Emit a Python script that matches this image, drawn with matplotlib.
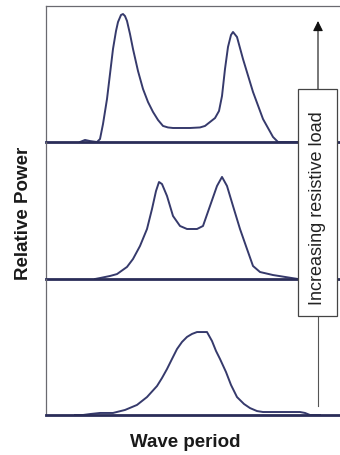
import matplotlib
matplotlib.use('Agg')
import matplotlib.pyplot as plt
from matplotlib.patches import Rectangle, FancyArrowPatch

plt.rcParams['font.family'] = ['Liberation Sans', 'DejaVu Sans']

# 功率谱（高负载 -> 低负载，从上到下）
period_high = [1.70, 1.95, 2.20, 2.55, 2.70, 2.85, 3.05, 3.20, 3.35, 3.50, 3.60, 3.75, 3.85, 3.95, 4.05,
               4.20, 4.35, 4.60, 4.85, 5.10, 5.35, 5.60, 5.85, 6.10, 6.35, 7.20, 7.70, 7.95, 8.20, 8.45,
               8.65, 8.80, 8.95, 9.10, 9.25, 9.35, 9.55, 9.85, 10.35, 10.85, 11.35, 11.60, 11.95, 12.70]
power_high = [0, 0.015, 0.007, 0, 0.022, 0.132, 0.316, 0.500, 0.684, 0.816, 0.882, 0.934, 0.941, 0.926, 0.890,
              0.794, 0.684, 0.522, 0.390, 0.294, 0.221, 0.162, 0.118, 0.107, 0.103, 0.103, 0.107, 0.118, 0.147, 0.176,
              0.228, 0.338, 0.537, 0.699, 0.787, 0.809, 0.772, 0.610, 0.368, 0.169, 0.037, 0, 0, 0]

period_mid = [2.45, 2.70, 3.20, 3.55, 4.05, 4.35, 4.70, 5.05, 5.30, 5.50, 5.65, 5.80, 6.05, 6.35, 6.70, 7.05,
              7.55, 7.85, 8.20, 8.55, 8.80, 9.05, 9.35, 9.70, 10.05, 10.35, 10.70, 11.35, 11.95, 12.60, 13.20]
power_mid = [0, 0.007, 0.022, 0.036, 0.088, 0.146, 0.241, 0.365, 0.511, 0.642, 0.708, 0.693, 0.606, 0.460, 0.387, 0.365,
             0.365, 0.387, 0.533, 0.679, 0.745, 0.679, 0.533, 0.365, 0.219, 0.095, 0.051, 0.029, 0.015, 0, 0]

period_low = [1.45, 1.85, 2.20, 2.70, 3.35, 3.95, 4.55, 5.05, 5.55, 5.80, 6.05, 6.30, 6.55, 6.80, 7.05, 7.30, 7.55,
              8.05, 8.30, 8.50, 8.70, 9.00, 9.25, 9.55, 9.90, 10.20, 10.55, 10.85, 11.70, 12.70, 12.95, 13.20, 13.70]
power_low = [0, 0, 0.007, 0.015, 0.015, 0.037, 0.074, 0.132, 0.213, 0.272, 0.338, 0.412, 0.485, 0.537, 0.574, 0.596, 0.610,
             0.610, 0.544, 0.471, 0.412, 0.316, 0.221, 0.132, 0.081, 0.051, 0.029, 0.022, 0.022, 0.022, 0.015, 0, 0]

panels = [(period_high, power_high), (period_mid, power_mid), (period_low, power_low)]

W, H = 340, 456
fig = plt.figure(figsize=(W / 100, H / 100), dpi=100)
fig.patch.set_facecolor('white')

line_col = '#363a6c'
base_col = '#2a2d58'
frame_col = '#6a6a70'

left = 46 / W
tops = [7, 143, 280]
bottoms = [143, 280, 416]

for i, (x, y) in enumerate(panels):
    y0 = 1 - bottoms[i] / H
    h = (bottoms[i] - tops[i]) / H
    ax = fig.add_axes([left, y0, 1 - left, h])
    ax.patch.set_alpha(0)   # 透明背景，避免盖住上一格的底线
    ax.plot(x, y, color=line_col, lw=1.4, solid_joinstyle='round')
    ax.set_xlim(0, 14.7)
    ax.set_ylim(0, 1)
    ax.set_xticks([])
    ax.set_yticks([])
    ax.spines['right'].set_visible(False)
    ax.spines['left'].set_color(frame_col)
    ax.spines['left'].set_linewidth(0.9)
    ax.spines['bottom'].set_color(base_col)
    ax.spines['bottom'].set_linewidth(2.0)
    if i == 0:
        ax.spines['top'].set_color(frame_col)
        ax.spines['top'].set_linewidth(0.9)
    else:
        ax.spines['top'].set_visible(False)

# 负载方向箭头 + 标签框
ax_x = 318 / W
fig.add_artist(plt.Line2D([ax_x, ax_x], [1 - 407 / H, 1 - 90 / H], color='#555555', lw=0.8))
fig.patches.append(Rectangle((298 / W, 1 - 317 / H), 39 / W, 227 / H, transform=fig.transFigure,
                             facecolor='white', edgecolor='#444444', lw=0.9, zorder=5))
fig.add_artist(FancyArrowPatch(
    (ax_x, 1 - 90 / H), (ax_x, 1 - 22 / H), transform=fig.transFigure,
    arrowstyle='-|>,head_length=6,head_width=3', color='#111111', lw=0.8, mutation_scale=1, shrinkA=0, shrinkB=0))
fig.text(ax_x, 1 - 208 / H, 'Increasing resistive load', rotation=90, ha='center', va='center',
         fontsize=13, color='#222222', zorder=6)

fig.text(23.5 / W, 1 - 213.5 / H, 'Relative Power', rotation=90, ha='center', va='center',
         fontsize=13.5, fontweight='bold', color='#1a1a1a')
fig.text(185 / W, 1 - 443 / H, 'Wave period', ha='center', va='center',
         fontsize=13.5, fontweight='bold', color='#1a1a1a')

fig.savefig('out.png', dpi=100)
